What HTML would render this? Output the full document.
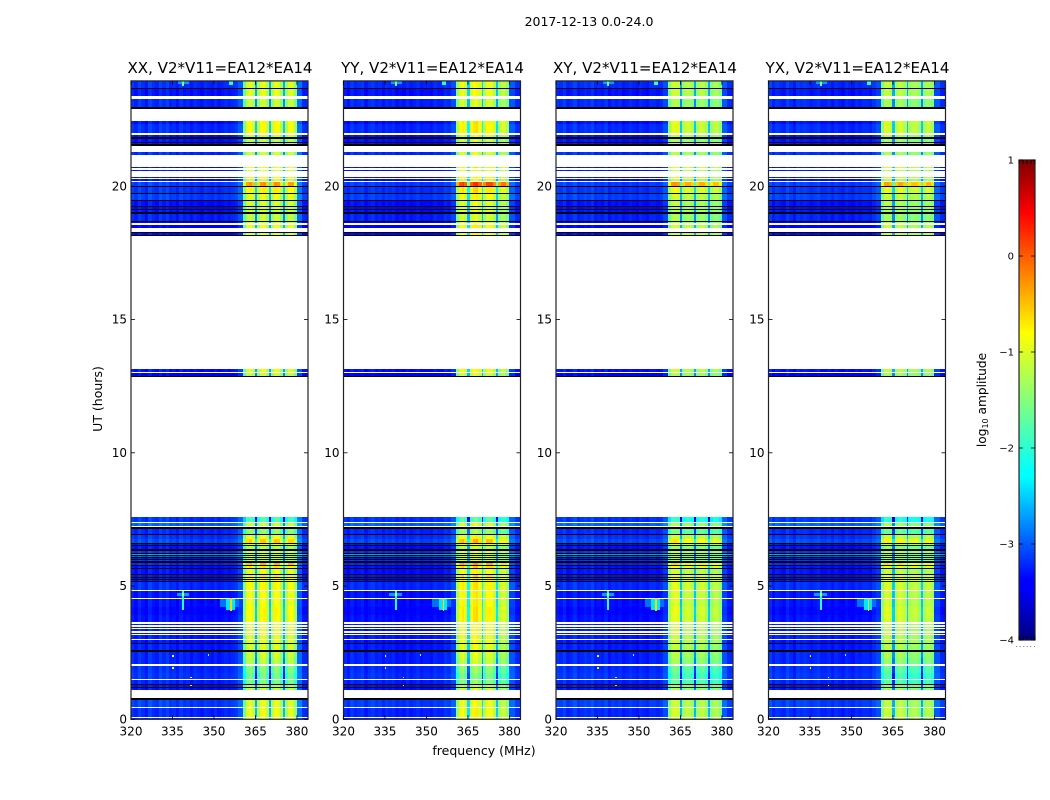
<!DOCTYPE html>
<html lang="en">
<head>
<meta charset="utf-8">
<title>2017-12-13 0.0-24.0</title>
<style>
html,body{margin:0;padding:0;background:#fff;}
svg{display:block;font-family:"DejaVu Sans","Liberation Sans",sans-serif;fill:#000;}
</style>
</head>
<body>
<svg id="chart" width="1050" height="800" viewBox="0 0 1050 800" xmlns="http://www.w3.org/2000/svg">
  <text x="589" y="26" font-size="12.5" text-anchor="middle">2017-12-13 0.0-24.0</text>
  <text x="484" y="755" font-size="12.5" text-anchor="middle">frequency (MHz)</text>
  <text x="102" y="399" font-size="12.5" text-anchor="middle" transform="rotate(-90 102 399)">UT (hours)</text>
  <text x="986" y="400" font-size="12.2" text-anchor="middle" transform="rotate(-90 986 400)">log<tspan font-size="8" dy="2">10</tspan><tspan dy="-2"> amplitude</tspan></text>
  <text x="1026" y="647" font-size="8" fill="#666" text-anchor="middle" letter-spacing="1">......</text>
  <g id="panels"></g>
  <g id="colorbar"></g>
</svg>
<script>
/* ---------- data ---------- */
const panelNames = ["XX", "YY", "XY", "YX"];
const baselineName = "V2*V11=EA12*EA14";
const freqTicks = [320, 335, 350, 365, 380];
const hourTicks = [0, 5, 10, 15, 20];
const colorTicks = [1, 0, -1, -2, -3, -4];
const colorTickLabels = ["1", "0", "\u22121", "\u22122", "\u22123", "\u22124"];

/* channel edges, MHz */
const channelEdges = [320,321.25,322.5,323.75,325,326.25,327.5,328.75,330,331.25,332.5,333.75,335,336.25,337.5,338.75,
  340,341.25,342.5,343.75,345,346.25,347.5,348.75,350,351.25,352.5,353.75,355,356.25,357.5,358.75,360.6,
  361.6,362.7,363.7,364.8,365.6,366.7,367.8,368.8,369.9,370.6,371.7,372.8,373.9,375,375.8,376.8,377.8,378.9,379.9,382,384];

/* log10 amplitude per channel */
const spectrumXX = [-3.25,-3.35,-3.2,-3.3,-3.4,-3.2,-3.3,-3.35,-3.2,-3.3,-3.2,-3.35,-3.3,-3.4,-3.25,-3.35,
  -3.3,-3.4,-3.3,-3.35,-3.4,-3.3,-3.35,-3.4,-3.3,-3.4,-3.35,-3.3,-3.35,-3.3,-3.25,-3.1,
  -1.7,-1.1,-1.0,-1.2,-2.7,-1.35,-1.0,-0.95,-1.3,-2.7,-1.3,-0.95,-1.0,-1.4,-2.7,-1.4,-1.05,-1.05,-1.5,-3.0,-3.3];
const spectrumYY = [-3.3,-3.4,-3.25,-3.35,-3.3,-3.25,-3.4,-3.3,-3.25,-3.35,-3.3,-3.4,-3.3,-3.35,-3.3,-3.4,
  -3.35,-3.4,-3.3,-3.4,-3.35,-3.3,-3.4,-3.35,-3.35,-3.4,-3.3,-3.35,-3.35,-3.25,-3.3,-3.15,
  -1.5,-1.0,-0.9,-1.1,-2.5,-1.1,-0.85,-0.8,-1.1,-2.5,-1.3,-0.95,-0.95,-1.3,-2.6,-1.45,-1.2,-1.2,-1.5,-3.1,-3.3];
const spectrumXY = [-3.25,-3.3,-3.2,-3.35,-3.3,-3.2,-3.35,-3.3,-3.25,-3.3,-3.2,-3.35,-3.3,-3.35,-3.25,-3.4,
  -3.3,-3.35,-3.3,-3.4,-3.35,-3.3,-3.35,-3.4,-3.3,-3.35,-3.4,-3.3,-3.3,-3.35,-3.3,-3.15,
  -1.6,-1.15,-1.1,-1.2,-2.7,-1.45,-1.25,-1.25,-1.45,-2.7,-1.45,-1.25,-1.25,-1.5,-2.7,-1.55,-1.35,-1.35,-1.6,-3.1,-3.3];
const spectrumYX = [-3.2,-3.35,-3.25,-3.3,-3.35,-3.2,-3.3,-3.4,-3.25,-3.3,-3.25,-3.3,-3.35,-3.3,-3.25,-3.35,
  -3.35,-3.3,-3.4,-3.3,-3.35,-3.4,-3.3,-3.35,-3.4,-3.3,-3.35,-3.3,-3.3,-3.35,-3.25,-3.15,
  -1.6,-1.2,-1.15,-1.3,-2.7,-1.4,-1.2,-1.2,-1.4,-2.7,-1.5,-1.35,-1.35,-1.5,-2.7,-1.5,-1.3,-1.3,-1.5,-3.1,-3.3];
const panelSpectra = [spectrumXX, spectrumYY, spectrumXY, spectrumYX];
/* extra band brightness of the hottest row near 20 h, per panel */
const hotRowBoost = [0, .35, .12, .12];

/* time rows that hold data: [top hour, bottom hour, background gain, band gain] */
const dataRows = [
 [23.95,23.68,.12,.05],[23.64,23.4,.02,.05],[23.28,22.96,.1,-.1],[22.46,22.34,0,.2],[22.34,21.99,.12,.18],[21.93,21.84,0,-.05],
 [21.79,21.68,0,-.1],[21.64,21.59,0,-.15],[21.3,21.17,.12,-.05],[20.74,20.7,0,.2],[20.61,20.57,0,.1],[20.36,20.32,0,.1],
 [20.26,20.21,0,0],[20.16,20.01,.2,.72],[19.99,19.74,.15,.25],[19.7,19.49,.2,.1],[19.45,19.27,0,-.02],[19.24,19.16,-.05,-.08],
 [19.11,19.02,0,-.05],[18.97,18.71,.08,-.1],[18.66,18.61,-.1,-.05],[18.55,18.42,-.1,.1],[18.25,18.17,-.05,.1],
 [13.14,13.03,0,.05],[13,12.88,-.1,-.1],
 [7.579,7.391,.15,-.8],[7.354,7.266,.35,-.1],[7.154,6.953,.1,-.4],[6.916,6.778,.15,.1],[6.778,6.603,.25,.45],[6.566,6.528,0,0],
 [6.503,6.378,0,-.2],[6.328,6.253,.15,0],[6.215,6.165,.6,-.3],[6.128,6.078,.3,-.1],[6.04,6.003,0,-.2],[5.978,5.94,.15,-.2],
 [5.878,5.778,.1,.55],[5.753,5.678,0,.3],[5.64,5.44,0,.1],[5.402,5.352,0,.3],[5.315,5.277,0,.2],[5.24,5.202,0,.2],
 [5.14,4.852,.12,.2],[4.802,4.564,0,.15],[4.527,4.2,0,.15],[4.2,3.9,-.05,.22],[3.9,3.651,0,.2],[3.589,3.526,.05,.05],
 [3.476,3.414,0,.05],[3.376,3.301,.05,.05],[3.251,3.201,0,0],[3.163,3.026,.05,.05],[2.988,2.863,0,.05],[2.826,2.601,.05,0],
 [2.538,2.3,.08,-.05],[2.3,2.075,.08,-.15],[2,1.75,.12,-.45],[1.75,1.512,.15,-.6],[1.462,1.325,.08,-.5],[1.275,1.225,0,-.25],
 [1.175,1.087,0,-.15],[.712,.474,.2,.05],[.437,.086,.1,.1],[.036,0,.1,.1]
];
/* time rows that are solid black: [top hour, bottom hour] */
const blackRows = [
 [23.68,23.64],[22.96,22.91],[21.84,21.79],[21.68,21.64],[21.59,21.53],[20.01,19.99],[19.74,19.7],[19.49,19.45],[19.27,19.24],
 [19.16,19.11],[19.02,18.97],[18.71,18.66],[18.3,18.25],[18.17,18.12],[12.88,12.84],[7.204,7.154],[6.953,6.916],[6.603,6.566],
 [6.528,6.503],[6.378,6.328],[6.253,6.215],[6.165,6.128],[6.078,6.04],[6.003,5.978],[5.94,5.878],[5.778,5.753],[5.678,5.64],
 [5.44,5.402],[5.352,5.315],[5.277,5.24],[5.202,5.14],[2.863,2.826],[2.601,2.538],[1.325,1.275],[1.225,1.175],[.787,.712]
];
/* narrowband interference: [low MHz, high MHz, top hour, bottom hour, log10 amplitude] */
const rfiPatches = [
 [337,341,23.95,23.82,-2.7],[338.6,339.3,23.95,23.75,-1.6],[355.6,357,23.95,23.8,-2.0],
 [336.5,341,4.75,4.63,-2.7],[338.6,339.3,4.82,4.1,-2.0],[338.6,339.3,4.75,4.63,-1.2],[352,359,4.5,4.2,-2.9],[354.5,357.5,4.5,4.1,-2.4],[355.9,356.5,4.55,4.05,-0.6],
 [335,335.5,2.4,2.34,-.9],[335,335.5,1.95,1.9,-.9],[341.5,342,1.6,1.55,-.7],[341.5,342,1.3,1.25,-1.2],[347.7,348.2,2.45,2.38,-1.4]
];
/* jet colour map anchors: [position, red, green, blue] */
const jetAnchors = [[0,0,0,.5],[.11,0,0,1],[.125,0,0,1],[.34,0,1,1],[.35,0,1,1],[.64,1,1,0],[.65,1,.96,0],[.89,1,0,0],[.91,.9,0,0],[1,.5,0,0]];
/* fractional positions of the small ticks along the colorbar ends */
const colorbarEndTicks = [0, .25, .5, .75, 1];

/* ---------- layout and scales ---------- */
const svgNS = "http://www.w3.org/2000/svg";
const plotTop = 80.9, plotBottom = 719.3, plotWidth = 177, panelStep = 212.5, panelStart = 131;
const freqMin = 320, freqMax = 384, hourMin = 0, hourMax = 23.955, colorMin = -4, colorMax = 1;
const barLeft = 1019, barRight = 1035, barTop = 160, barBottom = 640;

function xScale(panel, f) { return panelStart + panel * panelStep + (f - freqMin) / (freqMax - freqMin) * plotWidth; }
function yScale(h) { return plotBottom - (h - hourMin) / (hourMax - hourMin) * (plotBottom - plotTop); }
function barScale(v) { return barBottom - (v - colorMin) / (colorMax - colorMin) * (barBottom - barTop); }
function jet(v) {
  const t = Math.max(0, Math.min(1, (v - colorMin) / (colorMax - colorMin)));
  for (let i = 1; i < jetAnchors.length; i++) {
    const a = jetAnchors[i - 1], b = jetAnchors[i];
    if (t <= b[0]) {
      const k = (t - a[0]) / (b[0] - a[0] || 1);
      return "rgb(" + [1, 2, 3].map(c => Math.round(255 * (a[c] + k * (b[c] - a[c])))).join(",") + ")";
    }
  }
  return "rgb(128,0,0)";
}
function make(tag, parent, attrs) {
  const el = document.createElementNS(svgNS, tag);
  for (const k in attrs) el.setAttribute(k, attrs[k]);
  parent.appendChild(el);
  return el;
}
function snapRect(parent, x0, x1, y0, y1, fill) {
  const left = Math.round(x0), right = Math.max(left + 1, Math.round(x1));
  const top = Math.round(y0), bottom = Math.max(top + 1, Math.round(y1));
  return make("rect", parent, { x: left, y: top, width: right - left, height: bottom - top, fill: fill, "shape-rendering": "crispEdges" });
}

/* ---------- panels ---------- */
const panelsGroup = document.getElementById("panels");
panelNames.forEach(function (name, p) {
  const g = make("g", panelsGroup, {});
  
  
  const heat = make("g", g, {});
  
  
  const spectrum = panelSpectra[p];

  dataRows.forEach(function (row) {
    spectrum.forEach(function (level, c) {
      const inBand = level > -2.75;
      const boost = inBand && row[3] > 0.7 ? hotRowBoost[p] : 0;
      const gain = (inBand ? row[3] : row[2]) + boost;
      const cell = snapRect(heat, xScale(p, channelEdges[c]), xScale(p, channelEdges[c + 1]), yScale(row[0]), yScale(row[1]), jet(level + gain));
      
      
    });
  });
  rfiPatches.forEach(function (patch) {
    const mark = snapRect(heat, xScale(p, patch[0]), xScale(p, patch[1]), yScale(patch[2]), yScale(patch[3]), jet(patch[4]));
    
    
  });
  blackRows.forEach(function (row) {
    const bar = snapRect(heat, xScale(p, freqMin), xScale(p, freqMax), yScale(row[0]), yScale(row[1]), "#000");
    
    
  });

  /* frame */
  const frame = make("rect", g, { x: xScale(p, freqMin), y: plotTop, width: plotWidth, height: plotBottom - plotTop, fill: "none", stroke: "#222", "stroke-width": 1.2 });
  
  

  /* x ticks */
  freqTicks.forEach(function (f) {
    const x = xScale(p, f);
    const t1 = make("line", g, { x1: x, x2: x, y1: plotBottom, y2: plotBottom - 4, stroke: "#000", "stroke-width": 0.8 });
    
    
    const t2 = make("line", g, { x1: x, x2: x, y1: plotTop, y2: plotTop + 4, stroke: "#000", "stroke-width": 0.8 });
    
    
    const label = make("text", g, { x: x, y: plotBottom + 16, "font-size": 12, "text-anchor": "middle" });
    label.textContent = String(f);
    
    
  });
  /* y ticks */
  hourTicks.forEach(function (h) {
    const y = yScale(h), x0 = xScale(p, freqMin), x1 = xScale(p, freqMax);
    const t1 = make("line", g, { x1: x0, x2: x0 + 4, y1: y, y2: y, stroke: "#000", "stroke-width": 0.8 });
    
    
    const t2 = make("line", g, { x1: x1 - 4, x2: x1, y1: y, y2: y, stroke: "#000", "stroke-width": 0.8 });
    
    
    const label = make("text", g, { x: x0 - 4, y: y + 4, "font-size": 12, "text-anchor": "end" });
    label.textContent = String(h);
    
    
  });
  const title = make("text", g, { x: xScale(p, freqMin) + plotWidth / 2 + 0.5, y: plotTop - 8, "font-size": 15.05, "text-anchor": "middle" });
  title.textContent = name + ", " + baselineName;
  
  
});

/* ---------- colorbar ---------- */
const barGroup = document.getElementById("colorbar");
for (let px = barTop; px < barBottom; px += 2) {
  const v = colorMax - (px + 1 - barTop) / (barBottom - barTop) * (colorMax - colorMin);
  const seg = make("rect", barGroup, { x: barLeft, y: px, width: barRight - barLeft, height: 2, fill: jet(v), "shape-rendering": "crispEdges" });
  
  
}
const barFrame = make("rect", barGroup, { x: barLeft, y: barTop, width: barRight - barLeft, height: barBottom - barTop, fill: "none", stroke: "#222", "stroke-width": 1.2 });


colorbarEndTicks.forEach(function (fraction) {
  const x = barLeft + fraction * (barRight - barLeft);
  const topTick = make("line", barGroup, { x1: x, x2: x, y1: barTop, y2: barTop + 4, stroke: "#000", "stroke-width": 0.8 });
  
  
  const bottomTick = make("line", barGroup, { x1: x, x2: x, y1: barBottom - 4, y2: barBottom, stroke: "#000", "stroke-width": 0.8 });
  
  
});
colorTicks.forEach(function (v, i) {
  const y = barScale(v);
  const t1 = make("line", barGroup, { x1: barLeft, x2: barLeft + 4, y1: y, y2: y, stroke: "#000", "stroke-width": 0.8 });
  
  
  const t2 = make("line", barGroup, { x1: barRight - 4, x2: barRight, y1: y, y2: y, stroke: "#000", "stroke-width": 0.8 });
  
  
  const label = make("text", barGroup, { x: barLeft - 5, y: y + 3.5, "font-size": 10, "text-anchor": "end" });
  label.textContent = colorTickLabels[i];
  
  
});
</script>
</body>
</html>
